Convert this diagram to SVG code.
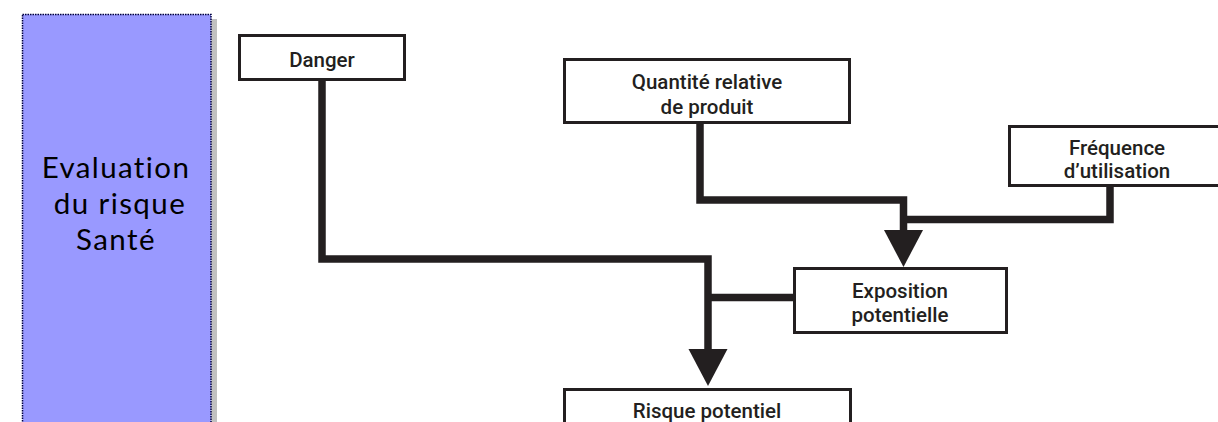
<svg xmlns="http://www.w3.org/2000/svg" width="1218" height="422" viewBox="0 0 1218 422">
<style>
.box{fill:#fff;stroke:#231f20;stroke-width:3}
.lbl{font-family:Roboto,"Liberation Sans",sans-serif;font-weight:500;font-size:20.5px;fill:#231f20;text-anchor:middle}
.conn{fill:none;stroke:#231f20;stroke-width:7.5;stroke-linejoin:miter;stroke-linecap:butt}
.side{font-family:"Lato","Liberation Sans",sans-serif;font-size:29.5px;letter-spacing:1.4px;fill:#000;text-anchor:middle}
</style>
<defs>
<marker id="arr" markerUnits="userSpaceOnUse" markerWidth="40" markerHeight="40" refX="0" refY="19.5" orient="auto">
<path d="M0,0 L37,19.5 L0,39 z" fill="#231f20"/>
</marker>
</defs>
<rect width="1218" height="422" fill="#fff"/>
<g id="panel">
<rect x="211" y="19" width="6" height="410" fill="#c0c0c0"/>
<rect x="22.5" y="14.5" width="188.5" height="420" fill="#9999ff" stroke="#000040" stroke-width="1.5" stroke-dasharray="1.5,1"/>
<text class="side" x="116" y="178">Evaluation</text>
<text class="side" x="120" y="214">du risque</text>
<text class="side" x="116" y="250">Santé</text>
</g>
<g id="connectors">
<path class="conn" d="M322,81 V259 H708 V349" marker-end="url(#arr)"/>
<path class="conn" d="M700,124 V200 H903.5 V230" marker-end="url(#arr)"/>
<path class="conn" d="M1110,186 V219.5 H903.5"/>
<path class="conn" d="M794,297.5 H708"/>
</g>
<g id="danger">
<rect class="box" x="239.5" y="35.5" width="165" height="44"/>
<text class="lbl" x="322" y="67">Danger</text>
</g>
<g id="quantite">
<rect class="box" x="564.5" y="59.5" width="285" height="63"/>
<text class="lbl" x="707" y="89">Quantité relative</text>
<text class="lbl" x="707" y="114">de produit</text>
</g>
<g id="frequence">
<rect class="box" x="1009.5" y="126.5" width="220" height="59"/>
<text class="lbl" x="1117" y="155">Fréquence</text>
<text class="lbl" x="1117" y="178">d’utilisation</text>
</g>
<g id="exposition">
<rect class="box" x="794.5" y="268.5" width="212" height="64"/>
<text class="lbl" x="900" y="298">Exposition</text>
<text class="lbl" x="900" y="322">potentielle</text>
</g>
<g id="risque">
<rect class="box" x="564.5" y="389.5" width="286" height="60"/>
<text class="lbl" x="707" y="418">Risque potentiel</text>
</g>
</svg>
